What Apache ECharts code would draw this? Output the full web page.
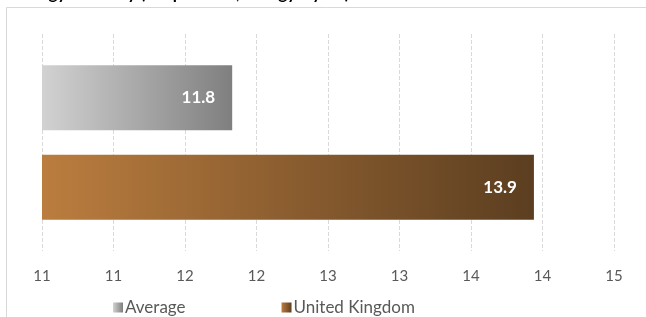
<!DOCTYPE html>
<html>
<head>
<meta charset="utf-8">
<script src="https://cdn.jsdelivr.net/npm/echarts@6/dist/echarts.min.js"></script>
<style>
  html, body { margin: 0; padding: 0; background: #fff; }
  #chart { width: 646px; height: 317px; }
</style>
</head>
<body>
<div id="chart"></div>
<script>
// values
var categories = ["Energy intensity"];
var seriesNames = ["Average", "United Kingdom"];
var averageValues = [11.83];
var ukValues = [13.94];
var axisMin = 10.5;
var axisMax = 14.5;
var axisStep = 0.5;

var chart = echarts.init(document.getElementById("chart"));

function grad(c1, c2) {
  return new echarts.graphic.LinearGradient(0, 0, 1, 0, [
    { offset: 0, color: c1 },
    { offset: 1, color: c2 },
  ]);
}

var font = "Lato, 'DejaVu Sans', sans-serif";

var barLabel = {
  show: true,
  position: "insideRight",
  distance: 17,
  color: "#fff",
  fontSize: 17,
  fontWeight: "bold",
  fontFamily: font,
  formatter: function (p) { return p.value.toFixed(1); },
};

var option = {
  animation: false,
  graphic: [
    {
      type: "rect",
      shape: { x: 6.5, y: 7.5, width: 700, height: 400 },
      style: { fill: "none", stroke: "#d9d9d9", lineWidth: 1 },
    },
    {
      type: "text",
      left: 14,
      top: -15,
      style: {
        text: "Energy intensity (MJ per GDP, energy / year)",
        font: "bold 17px " + font,
        fill: "#000",
      },
    },
  ],
  grid: { left: 42, right: 32, top: 34, bottom: 66 },
  legend: {
    data: seriesNames,
    left: 108,
    top: 294,
    itemWidth: 10,
    itemHeight: 10,
    itemGap: 96,
    icon: "rect",
    textStyle: { color: "#595959", fontSize: 17, fontFamily: font, padding: [0, 0, 0, -3] },
  },
  xAxis: {
    type: "value",
    min: axisMin,
    max: axisMax,
    interval: axisStep,
    axisLine: { show: false },
    axisTick: { show: false },
    axisLabel: {
      color: "#595959",
      fontSize: 15,
      fontFamily: font,
      margin: 18,
      formatter: function (v) { return Math.round(v); },
    },
    splitLine: { show: true, lineStyle: { color: "#d9d9d9", type: "dashed" } },
  },
  yAxis: {
    type: "category",
    data: categories,
    inverse: true,
    axisLine: { show: false },
    axisTick: { show: false },
    axisLabel: { show: false },
  },
  series: [
    {
      name: seriesNames[0],
      type: "bar",
      data: averageValues,
      barWidth: 65,
      barGap: "38%",
      itemStyle: { color: grad("#d2d2d2", "#7f7f7f") },
      label: barLabel,
    },
    {
      name: seriesNames[1],
      type: "bar",
      data: ukValues,
      barWidth: 65,
      barGap: "38%",
      itemStyle: { color: grad("#bb7d3f", "#5b3e20") },
      label: barLabel,
    },
  ],
};

chart.setOption(option);
</script>
</body>
</html>
